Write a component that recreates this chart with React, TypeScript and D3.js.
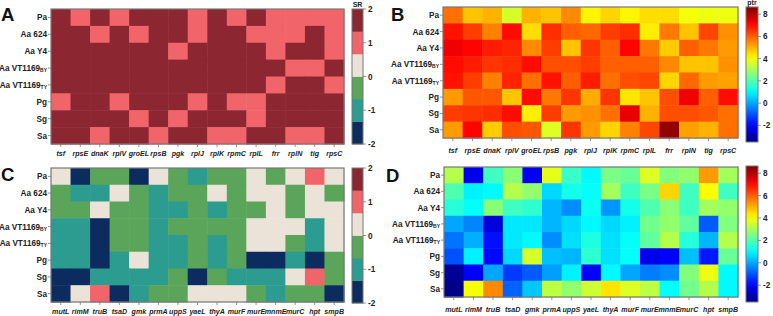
import React from "react";
import * as d3 from "d3";

// Row (strain) labels with optional subscripts
const strains = ["Pa", "Aa 624", "Aa Y4", "Aa VT1169", "Aa VT1169", "Pg", "Sg", "Sa"];
const strainSubs = ["", "", "", "BY", "TY", "", "", ""];

// Gene sets
const genesTop = ["tsf", "rpsE", "dnaK", "rplV", "groEL", "rpsB", "pgk", "rplJ", "rplK", "rpmC", "rplL", "frr", "rplN", "tig", "rpsC"];
const genesBottom = ["mutL", "rimM", "truB", "tsaD", "gmk", "prmA", "uppS", "yaeL", "thyA", "murF", "murE", "mnmE", "murC", "hpt", "smpB"];

// SR classes, top gene set
const srTop = [
  [2, 1, 2, 1, 2, 2, 2, 1, 2, 1, 2, 1, 1, 1, 1],
  [2, 2, 1, 2, 1, 2, 2, 1, 2, 2, 1, 1, 1, 2, 1],
  [2, 2, 2, 2, 2, 2, 1, 2, 2, 2, 2, 1, 2, 2, 1],
  [2, 2, 2, 2, 2, 2, 2, 2, 2, 2, 2, 2, 1, 1, 2],
  [2, 2, 2, 2, 2, 2, 2, 2, 2, 2, 2, 1, 2, 2, 1],
  [1, 2, 2, 1, 2, 2, 2, 1, 2, 1, 1, 2, 2, 2, 2],
  [2, 2, 2, 2, 1, 2, 1, 2, 2, 2, 1, 2, 2, 2, 2],
  [2, 2, 1, 2, 2, 1, 2, 2, 1, 1, 2, 2, 1, 1, 2],
];

// ptr values, top gene set
const ptrTop = [
  [5.8, 4.8, 5.0, 3.6, 5.0, 4.8, 5.5, 4.2, 4.6, 4.2, 4.5, 4.5, 4.0, 3.9, 3.9],
  [6.9, 6.4, 5.6, 7.0, 4.5, 6.6, 6.0, 5.9, 6.4, 6.6, 4.3, 5.7, 4.8, 6.3, 5.4],
  [7.3, 7.1, 6.8, 6.7, 5.5, 6.4, 4.8, 6.5, 6.0, 7.1, 5.7, 4.7, 6.0, 5.7, 5.3],
  [7.0, 6.8, 6.5, 6.6, 7.0, 6.2, 6.2, 6.4, 6.0, 6.0, 6.0, 5.5, 4.8, 4.8, 5.4],
  [6.9, 6.4, 5.6, 6.7, 5.8, 6.9, 6.0, 6.8, 5.8, 6.2, 6.3, 4.6, 5.9, 5.3, 5.2],
  [5.3, 6.1, 6.1, 4.8, 7.0, 5.7, 6.5, 5.1, 6.5, 4.4, 4.8, 6.2, 7.3, 6.0, 7.0],
  [6.4, 6.5, 6.6, 7.0, 4.3, 6.4, 5.3, 5.4, 5.8, 7.4, 5.0, 6.2, 6.2, 6.1, 5.8],
  [5.3, 7.1, 4.7, 6.2, 6.1, 3.7, 6.5, 5.3, 4.6, 5.6, 6.3, 8.4, 5.2, 5.0, 5.8],
];

// SR classes, bottom gene set
const srBottom = [
  [0.5, -2, -0.5, -0.5, -2, 0.5, -0.5, -1, -0.5, -0.5, 0.5, -0.5, 0.5, 1, 0.5],
  [-0.5, -1, -1, 0.5, -0.5, -1, -0.5, -0.5, 0.5, -0.5, 0.5, 0.5, -0.5, 0.5, -0.5],
  [-0.5, -0.5, 0.5, -0.5, -0.5, -1, -1, -0.5, -1, -0.5, -0.5, 0.5, -0.5, 0.5, 0.5],
  [-1, -1, -2, -0.5, -0.5, -1, -0.5, -0.5, -0.5, -0.5, 0.5, 0.5, 0.5, -1, 0.5],
  [-1, -1, -2, -0.5, -0.5, -1, -1, -0.5, -1, -0.5, 0.5, 0.5, -0.5, -1, 0.5],
  [-1, -1, -2, -1, 0.5, -1, -1, -0.5, -1, -0.5, -2, -2, -1, -2, -0.5],
  [-2, -2, -1, -1, -1, -1, -0.5, -2, -0.5, -1, -1, -1, 0.5, 1, -0.5],
  [-2, 0.5, 1, -2, -1, -0.5, -0.5, 0.5, 0.5, 0.5, -0.5, -1, -0.5, -0.5, -2],
];

// ptr values, bottom gene set
const ptrBottom = [
  [3.2, -2.2, 1.8, 2.7, -2.1, 3.8, 1.7, 1.0, 2.5, 2.3, 3.7, 2.6, 2.8, 5.3, 3.0],
  [2.0, 0.9, 1.0, 3.2, 2.8, 0.6, 1.3, 1.1, 3.0, 1.8, 2.5, 4.6, 1.8, 4.1, 1.8],
  [1.5, 1.1, 2.7, 1.8, 1.6, 0.2, -0.3, 1.2, -0.2, 1.3, 2.0, 2.7, 1.8, 3.0, 2.8],
  [0.0, -0.4, -2.4, 0.8, 0.8, 0.2, 0.6, 1.0, 0.6, 0.9, 2.4, 2.8, 2.2, -0.9, 2.6],
  [-0.6, 0.1, -1.8, 0.8, 1.0, -0.3, 0.7, 1.4, 0.7, 1.1, 2.2, 3.2, 1.5, 0.2, 3.2],
  [-1.0, 0.9, -1.9, 0.6, 3.6, 0.3, 0.2, 1.6, 0.7, 1.1, -2.2, -2.0, 0.3, -1.7, 2.3],
  [-3.2, -2.0, 0.0, -1.3, -0.9, -0.1, 0.9, -2.0, 1.0, 0.0, -0.5, -0.3, 2.6, 3.9, 1.0],
  [-3.4, 4.0, 5.5, -0.8, 0.4, 3.3, 2.8, 3.5, 4.4, 3.7, 3.3, 1.1, 2.4, 3.2, 1.0],
];

const srTicks = [2, 1, 0, -1, -2];
const ptrTicks = [8, 6, 4, 2, 0, -2];
const srDomain = [-2, 2];
const ptrDomain = [-3.5, 8.65];
const srColors = ["#0c2b5e", "#2b9c8f", "#5aa55a", "#ebe3d7", "#f0646a", "#8c2630"];

const FONT = "'Liberation Sans', Arial, sans-serif";
const BORDER = "#777";

// Classic "jet" colormap
function jet(t: number): string {
  const c = (x: number) => Math.max(0, Math.min(1, x));
  const r = c(1.5 - Math.abs(4 * t - 3));
  const g = c(1.5 - Math.abs(4 * t - 2));
  const b = c(1.5 - Math.abs(4 * t - 1));
  return d3.rgb(r * 255, g * 255, b * 255).formatHex();
}

const srScale = d3.scaleQuantize<string>().domain(srDomain).range(srColors);
const ptrNorm = d3.scaleLinear().domain(ptrDomain).range([0, 1]).clamp(true);
const ptrColor = (v: number) => jet(ptrNorm(v));

type Box = { x0: number; x1: number; y0: number; y1: number };
type Bar = { x: number; w: number; y0: number; y1: number };

function Heatmap(props: {
  id: string;
  letter: string;
  letterX: number;
  letterY: number;
  box: Box;
  bar: Bar;
  genes: string[];
  values: number[][];
  kind: "sr" | "ptr";
  title?: string;
  labelY: number;
}) {
  const { id, letter, letterX, letterY, box, bar, genes, values, kind, title, labelY } = props;
  const x = d3.scaleBand<string>().domain(genes).range([box.x0, box.x1]);
  const y = d3.scaleBand<number>().domain(d3.range(strains.length)).range([box.y0, box.y1]);
  const color = kind === "sr" ? (v: number) => srScale(v) : ptrColor;
  const domain = kind === "sr" ? srDomain : ptrDomain;
  const ticks = kind === "sr" ? srTicks : ptrTicks;
  const barY = d3.scaleLinear().domain(domain).range([bar.y1, bar.y0]);

  return (
    <g>
      <text x={letterX} y={letterY} fontFamily={FONT} fontWeight="bold" fontSize={18.5} fill="#111">
        {letter}
      </text>
      {values.map((row, i) =>
        row.map((v, j) => (
          <rect
            key={`${i}-${j}`}
            x={x(genes[j])}
            y={y(i)}
            width={x.bandwidth() + 0.5}
            height={y.bandwidth() + 0.5}
            fill={color(v)}
          />
        ))
      )}
      <rect x={box.x0} y={box.y0} width={box.x1 - box.x0} height={box.y1 - box.y0} fill="none" stroke={BORDER} strokeWidth={1.2} />
      {/* row axis */}
      {strains.map((s, i) => {
        const cy = (y(i) as number) + y.bandwidth() / 2;
        return (
          <g key={s + i}>
            <line x1={box.x0 - 3} x2={box.x0} y1={cy} y2={cy} stroke={BORDER} strokeWidth={0.8} />
            <text x={box.x0 - 4} y={cy + 3} textAnchor="end" fontFamily={FONT} fontWeight="bold" fontSize={8.2} fill="#222">
              {s}
              {strainSubs[i] ? (
                <tspan fontSize={5} dy={1}>
                  {strainSubs[i]}
                </tspan>
              ) : null}
            </text>
          </g>
        );
      })}
      {/* column axis */}
      {genes.map((g) => {
        const cx = (x(g) as number) + x.bandwidth() / 2;
        return (
          <g key={g}>
            <line x1={cx} x2={cx} y1={box.y1} y2={box.y1 + 3} stroke={BORDER} strokeWidth={0.8} />
            <text x={cx} y={labelY} textAnchor="middle" fontFamily={FONT} fontWeight="bold" fontStyle="italic" fontSize={7.1} fill="#222">
              {g}
            </text>
          </g>
        );
      })}
      {/* colour bar */}
      {kind === "sr" ? (
        srColors.map((c, k) => {
          const lo = srDomain[0] + (k * (srDomain[1] - srDomain[0])) / srColors.length;
          const hi = srDomain[0] + ((k + 1) * (srDomain[1] - srDomain[0])) / srColors.length;
          return <rect key={c} x={bar.x} y={barY(hi)} width={bar.w} height={barY(lo) - barY(hi) + 0.3} fill={c} />;
        })
      ) : (
        <>
          <defs>
            <linearGradient id={`grad-${id}`} x1="0" x2="0" y1="1" y2="0">
              {d3.range(0, 1.0001, 0.05).map((t) => (
                <stop key={t} offset={t} stopColor={jet(t)} />
              ))}
            </linearGradient>
          </defs>
          <rect x={bar.x} y={bar.y0} width={bar.w} height={bar.y1 - bar.y0} fill={`url(#grad-${id})`} />
        </>
      )}
      <rect x={bar.x} y={bar.y0} width={bar.w} height={bar.y1 - bar.y0} fill="none" stroke={BORDER} strokeWidth={1} />
      {ticks.map((t) => (
        <g key={t}>
          <line x1={bar.x + bar.w} x2={bar.x + bar.w + 3} y1={barY(t)} y2={barY(t)} stroke={BORDER} strokeWidth={0.8} />
          <text x={bar.x + bar.w + 5} y={barY(t) + 3} fontFamily={FONT} fontWeight="bold" fontSize={8.2} fill="#222">
            {t < 0 ? `-${Math.abs(t)}` : t}
          </text>
        </g>
      ))}
      {title ? (
        <text x={bar.x + bar.w / 2} y={bar.y0 - 2} textAnchor="middle" fontFamily={FONT} fontWeight="bold" fontSize={7} fill="#222">
          {title}
        </text>
      ) : null}
    </g>
  );
}

export default function App() {
  return (
    <svg width={773} height={316} style={{ position: "absolute", left: 0, top: 0, background: "#fff" }}>
      <Heatmap
        id="a"
        letter="A"
        letterX={1}
        letterY={21}
        box={{ x0: 51, x1: 344, y0: 9, y1: 144 }}
        bar={{ x: 352, w: 11, y0: 9, y1: 144 }}
        genes={genesTop}
        values={srTop}
        kind="sr"
        title="SR"
        labelY={156}
      />
      <Heatmap
        id="b"
        letter="B"
        letterX={391}
        letterY={21}
        box={{ x0: 443, x1: 738, y0: 7, y1: 138 }}
        bar={{ x: 746, w: 12, y0: 7, y1: 142 }}
        genes={genesTop}
        values={ptrTop}
        kind="ptr"
        title="ptr"
        labelY={153}
      />
      <Heatmap
        id="c"
        letter="C"
        letterX={1}
        letterY={181}
        box={{ x0: 51, x1: 344, y0: 168, y1: 302 }}
        bar={{ x: 352, w: 11, y0: 168, y1: 303 }}
        genes={genesBottom}
        values={srBottom}
        kind="sr"
        labelY={314}
      />
      <Heatmap
        id="d"
        letter="D"
        letterX={386}
        letterY={182}
        box={{ x0: 444, x1: 738, y0: 167, y1: 297 }}
        bar={{ x: 746, w: 12, y0: 166, y1: 302 }}
        genes={genesBottom}
        values={ptrBottom}
        kind="ptr"
        labelY={312}
      />
    </svg>
  );
}
